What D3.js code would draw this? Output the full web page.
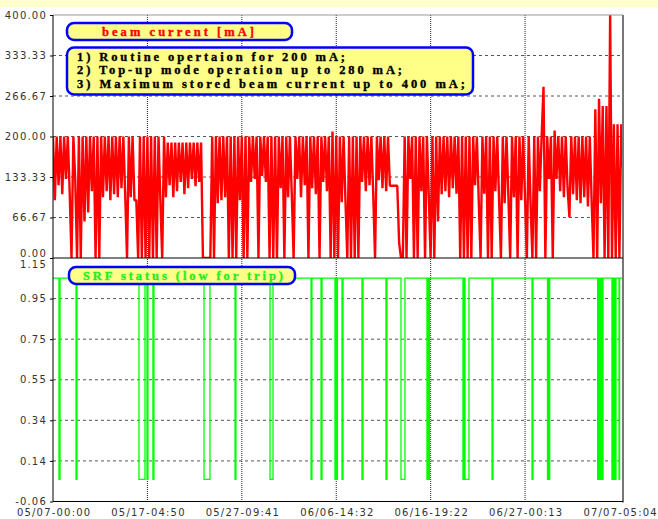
<!DOCTYPE html>
<html>
<head>
<meta charset="utf-8">
<script src="https://cdn.jsdelivr.net/npm/d3@7"></script>
<style>
  body { margin: 0; background: #fff; }
  .tick text { font-family: "DejaVu Sans", sans-serif; font-size: 10px; letter-spacing: 1.2px; fill: #333; }
  .legend text { font-family: "Liberation Serif", serif; font-weight: bold; font-size: 12.5px; stroke-width: 0.35px; }
</style>
</head>
<body>
<svg></svg>
<script>
// beam current [mA], one reading every 0.2 day from 05/07-00:00
var beamStepDays = 0.2;
var beamCurrent = [
  200, 95, 200, 120, 200, 105, 200, 130, 200, 110,
  0, 200, 130, 0, 200, 0, 200, 60, 200, 75,
  200, 110, 200, 0, 200, 0, 200, 100, 200, 110,
  200, 95, 200, 105, 200, 100, 200, 115, 200, 105,
  0, 200, 100, 200, 95, 95, 0, 200, 0, 200,
  0, 200, 0, 200, 0, 200, 0, 200, 95, 0,
  200, 100, 190, 120, 190, 100, 190, 110, 190, 125,
  190, 105, 190, 115, 190, 130, 190, 118, 190, 125,
  190, 0, 0, 0, 0, 0, 200, 0, 200, 90,
  200, 95, 200, 100, 200, 0, 200, 0, 200, 0,
  200, 95, 200, 0, 200, 0, 200, 125, 200, 130,
  200, 0, 200, 135, 200, 125, 200, 0, 200, 0,
  200, 0, 200, 115, 200, 0, 200, 100, 200, 105,
  0, 200, 130, 200, 100, 200, 120, 200, 0, 200,
  115, 200, 105, 200, 0, 200, 125, 200, 110, 200,
  0, 208, 0, 200, 0, 200, 92, 200, 95, 0,
  200, 0, 200, 0, 200, 0, 200, 125, 200, 110,
  200, 120, 200, 105, 0, 200, 128, 200, 115, 200,
  110, 200, 119, 119, 119, 119, 119, 25, 0, 0,
  200, 0, 200, 130, 200, 0, 200, 0, 200, 110,
  200, 0, 200, 105, 0, 200, 0, 200, 60, 200,
  105, 200, 110, 200, 100, 200, 115, 200, 106, 200,
  0, 200, 0, 200, 0, 200, 0, 200, 120, 200,
  95, 0, 200, 106, 200, 0, 200, 0, 200, 110,
  200, 95, 0, 200, 90, 200, 105, 0, 200, 100,
  200, 0, 200, 95, 200, 100, 0, 200, 90, 0,
  200, 0, 200, 110, 200, 282, 0, 200, 130, 200,
  0, 210, 130, 200, 110, 200, 100, 200, 115, 67,
  200, 105, 200, 95, 200, 90, 200, 100, 200, 85,
  200, 95, 0, 245, 0, 262, 90, 250, 0, 250,
  0, 400, 0, 220, 0, 220, 0, 220, 150
];

// SRF trips: [start day, end day] since 05/07-00:00
var srfTrips = [
  [0.65, 0.76], [2.49, 2.59], [9.29, 9.94], [10.16, 10.26], [10.80, 10.91],
  [16.32, 16.96], [19.67, 19.77], [23.45, 23.77], [27.88, 27.98], [28.96, 29.07],
  [30.47, 30.57], [30.63, 30.73], [31.23, 31.34], [33.39, 33.50], [35.98, 36.09],
  [37.60, 38.03], [40.41, 40.52], [40.57, 40.68], [44.30, 44.41], [44.52, 44.95],
  [47.44, 47.54], [51.76, 51.86], [53.43, 53.54], [53.59, 53.67],
  [58.85, 58.92], [58.97, 59.05], [59.10, 59.17], [59.22, 59.30], [59.35, 59.43],
  [60.40, 60.47], [60.52, 60.60], [60.65, 60.72], [60.76, 60.83], [61.16, 61.22]
];
var srfHigh = 1.05, srfLow = 0.05;

var beamTickLabels = ["0.00", "66.67", "133.33", "200.00", "266.67", "333.33", "400.00"];
var srfTickLabels = ["-0.06", "0.14", "0.34", "0.55", "0.75", "0.95", "1.15"];
var timeTickLabels = ["05/07-00:00", "05/17-04:50", "05/27-09:41", "06/06-14:32",
                      "06/16-19:22", "06/27-00:13", "07/07-05:04"];
var notes = ["1) Routine opertaion for 200 mA;",
             "2) Top-up mode operation up to 280 mA;",
             "3) Maximum stored beam current up to 400 mA;"];

var width = 658, height = 519;
var left = 53, right = 623, top1 = 15, mid = 258, bottom = 501.5;

var svg = d3.select("svg").attr("width", width).attr("height", height);

// pale band at the very top
svg.append("rect").attr("width", width).attr("height", 7).attr("fill", "#ffffcc");

// scales
var t0 = Date.UTC(2008, 4, 7);
var dayMs = 864e5;
var tickStep = 88144 * 60000 / 6;
var x = d3.scaleUtc()
    .domain([new Date(t0), new Date(t0 + 6 * tickStep)])
    .range([left, 619.5]);
var timeTicks = d3.range(7).map(function(k) { return new Date(t0 + k * tickStep); });

var yBeam = d3.scaleLinear().domain([0, 400]).range([mid, top1]);
var beamTicks = d3.range(7).map(function(k) { return k * 400 / 6; });

var ySrf = d3.scaleLinear().domain([-0.06, 1.15]).range([bottom, mid]);
var srfTicks = d3.range(7).map(function(k) { return -0.06 + k * 1.21 / 6; });

// horizontal grid (dashed)
var grid = svg.append("g");
grid.selectAll("line.hb")
    .data(beamTicks.slice(1, 6))
    .join("line")
    .attr("x1", left).attr("x2", right)
    .attr("y1", d => yBeam(d)).attr("y2", d => yBeam(d))
    .attr("stroke", "#555").attr("stroke-dasharray", "3,3");
grid.selectAll("line.hs")
    .data(srfTicks.slice(1, 6))
    .join("line")
    .attr("x1", left).attr("x2", right)
    .attr("y1", d => ySrf(d)).attr("y2", d => ySrf(d))
    .attr("stroke", "#555").attr("stroke-dasharray", "3,3");

// vertical grid (dotted)
svg.append("g").selectAll("line")
    .data(timeTicks.slice(1, 6))
    .join("line")
    .attr("x1", d => x(d)).attr("x2", d => x(d))
    .attr("y1", top1).attr("y2", bottom + 1)
    .attr("stroke", "#222").attr("stroke-dasharray", "1,1");

// clip paths
svg.append("clipPath").attr("id", "clipTop")
    .append("rect").attr("x", left).attr("y", top1 - 1).attr("width", right - left).attr("height", mid - top1 + 1);
svg.append("clipPath").attr("id", "clipBot")
    .append("rect").attr("x", left).attr("y", mid).attr("width", right - left).attr("height", bottom - mid);

// beam current
var beamLine = d3.line()
    .x(function(d, i) { return x(new Date(t0 + i * beamStepDays * dayMs)); })
    .y(function(d) { return yBeam(d); });
svg.append("path")
    .datum(beamCurrent)
    .attr("clip-path", "url(#clipTop)")
    .attr("fill", "none")
    .attr("stroke", "#ff0000")
    .attr("stroke-width", 2.4)
    .attr("stroke-linejoin", "bevel")
    .attr("d", beamLine);

// SRF status as a step trace
var srfPts = [[0, srfHigh]];
srfTrips.forEach(function(t) {
    srfPts.push([t[0], srfHigh], [t[0], srfLow], [t[1], srfLow], [t[1], srfHigh]);
});
srfPts.push([62, srfHigh]);
var srfLine = d3.line()
    .x(function(d) { return x(new Date(t0 + d[0] * dayMs)); })
    .y(function(d) { return ySrf(d[1]); });
svg.append("path")
    .datum(srfPts)
    .attr("clip-path", "url(#clipBot)")
    .attr("fill", "none")
    .attr("stroke", "#00ff00")
    .attr("stroke-width", 1.3)
    .attr("d", srfLine);

// frame
svg.append("line").attr("x1", left).attr("x2", right).attr("y1", top1).attr("y2", top1)
    .attr("stroke", "#999");
svg.append("line").attr("x1", right).attr("x2", right).attr("y1", top1).attr("y2", bottom + 1)
    .attr("stroke", "#777").attr("stroke-width", 2);
svg.append("line").attr("x1", left).attr("x2", right).attr("y1", mid).attr("y2", mid)
    .attr("stroke", "#000");
svg.append("line").attr("x1", left).attr("x2", right).attr("y1", bottom).attr("y2", bottom)
    .attr("stroke", "#000");
svg.append("line").attr("x1", left).attr("x2", left).attr("y1", top1).attr("y2", bottom)
    .attr("stroke", "#000");

// axes
var axBeam = svg.append("g").attr("transform", "translate(" + left + ",0)")
    .call(d3.axisLeft(yBeam).tickValues(beamTicks).tickSize(3).tickSizeOuter(0)
        .tickFormat(function(d, i) { return beamTickLabels[i]; }));
var axSrf = svg.append("g").attr("transform", "translate(" + left + ",0)")
    .call(d3.axisLeft(ySrf).tickValues(srfTicks).tickSize(3).tickSizeOuter(0)
        .tickFormat(function(d, i) { return srfTickLabels[i]; }));
var axTime = svg.append("g").attr("transform", "translate(0," + bottom + ")")
    .call(d3.axisBottom(x).tickValues(timeTicks).tickSize(0).tickPadding(7)
        .tickFormat(function(d, i) { return timeTickLabels[i]; }));
[axBeam, axSrf, axTime].forEach(function(a) {
    a.select(".domain").remove();
    a.selectAll(".tick line").attr("stroke", "#000");
});
// keep the two labels that meet at the panel joint apart
axBeam.selectAll(".tick text").filter(function(d, i) { return i === 0; }).attr("dy", "-0.18em");
axSrf.selectAll(".tick text").filter(function(d, i) { return i === 6; }).attr("dy", "0.92em");
axTime.selectAll(".tick text").attr("dx", "0.6px");

// legend boxes
var legend = svg.append("g").attr("class", "legend");
function box(x0, y0, w, h) {
    legend.append("rect")
        .attr("x", x0).attr("y", y0).attr("width", w).attr("height", h)
        .attr("rx", 7).attr("ry", 7)
        .attr("fill", "#ffff88").attr("stroke", "#0000ff").attr("stroke-width", 2.5);
}
box(67, 23, 225, 17);
legend.append("text").attr("x", 102).attr("y", 35.5)
    .attr("fill", "#ff0000").attr("stroke", "#ff0000")
    .attr("textLength", 152).attr("lengthAdjust", "spacing")
    .text("beam current [mA]");

box(67, 47.5, 406, 47);
var noteEnds = [268, 325, 388];
legend.selectAll("text.note")
    .data(notes)
    .join("text")
    .attr("class", "note")
    .attr("x", 77)
    .attr("y", (d, i) => 61 + i * 13.3)
    .attr("fill", "#000").attr("stroke", "#000")
    .attr("textLength", (d, i) => noteEnds[i]).attr("lengthAdjust", "spacing")
    .text(d => d);

box(69, 267, 226, 17);
legend.append("text").attr("x", 83).attr("y", 279.5)
    .attr("fill", "#22ee22").attr("stroke", "#22ee22")
    .attr("textLength", 200).attr("lengthAdjust", "spacing")
    .text("SRF status (low for trip)");
</script>
</body>
</html>
